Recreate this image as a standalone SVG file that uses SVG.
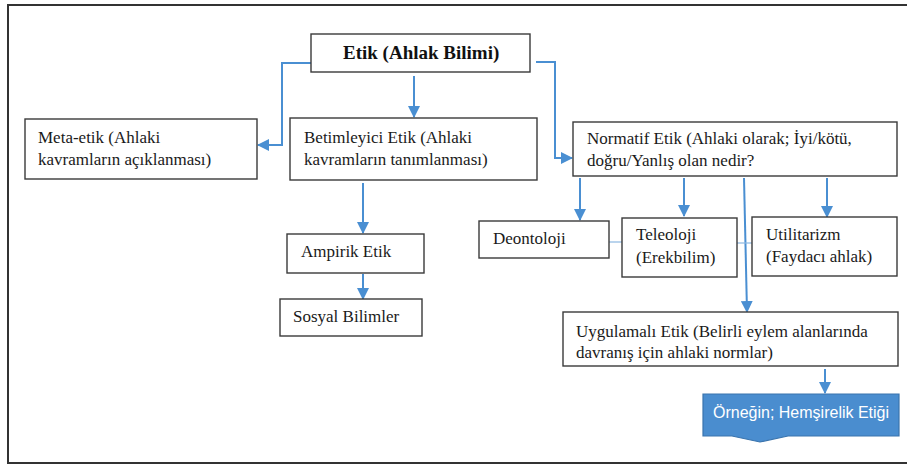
<svg xmlns="http://www.w3.org/2000/svg" width="907" height="465" viewBox="0 0 907 465">
<defs>
<style>
.box{fill:#fff;stroke:#3a3a3a;stroke-width:1.4}
.t{font-family:"Liberation Serif","Times New Roman",serif;font-size:17px;fill:#1a1a1a}
.b{font-family:"Liberation Serif","Times New Roman",serif;font-size:19px;font-weight:bold;fill:#111}
.c{fill:none;stroke:#4a8fd2;stroke-width:2}
.thin{fill:none;stroke:#8db8e2;stroke-width:1.2}
.w{font-family:"Liberation Sans",Arial,sans-serif;font-size:16px;fill:#fff}
</style>
<marker id="ah" markerUnits="userSpaceOnUse" markerWidth="12" markerHeight="12" refX="11" refY="6" orient="auto" viewBox="0 0 12 12">
<path d="M0,0 L12,6 L0,12 z" fill="#4a8fd2"/>
</marker>
</defs>
<rect x="0" y="0" width="907" height="465" fill="#fff"/>
<rect x="8" y="5" width="910" height="458" fill="none" stroke="#333" stroke-width="2"/>

<g id="connectors">
<polyline class="c" points="311,63 282,63 282,145 258,145" marker-end="url(#ah)"/>
<line class="c" x1="414" y1="76" x2="414" y2="117" marker-end="url(#ah)"/>
<polyline class="c" points="536,62 555,62 555,158 572,158" marker-end="url(#ah)"/>
<line class="c" x1="363" y1="183" x2="363" y2="233" marker-end="url(#ah)"/>
<line class="c" x1="363" y1="274" x2="363" y2="299" marker-end="url(#ah)"/>
<line class="c" x1="580" y1="178" x2="580" y2="220" marker-end="url(#ah)"/>
<line class="c" x1="684" y1="178" x2="684" y2="216" marker-end="url(#ah)"/>
<line class="c" x1="827" y1="178" x2="827" y2="217" marker-end="url(#ah)"/>
<line class="c" x1="744" y1="178" x2="747" y2="312" marker-end="url(#ah)"/>
<line class="c" x1="825" y1="369" x2="825" y2="393" marker-end="url(#ah)"/>
<line class="thin" x1="609" y1="242" x2="622" y2="242"/>
<line class="thin" x1="737" y1="243" x2="752" y2="243"/>
</g>

<g id="etik">
<rect class="box" x="311" y="34" width="219" height="38"/>
<text class="b" x="343" y="59">Etik (Ahlak Bilimi)</text>
</g>
<g id="meta-etik">
<rect class="box" x="25" y="119" width="232" height="60"/>
<text class="t" x="38" y="143">Meta-etik (Ahlaki</text>
<text class="t" x="38" y="165">kavramların açıklanması)</text>
</g>
<g id="betimleyici">
<rect class="box" x="290" y="118" width="247" height="62"/>
<text class="t" x="304" y="143">Betimleyici Etik (Ahlaki</text>
<text class="t" x="304" y="165">kavramların tanımlanması)</text>
</g>
<g id="normatif">
<rect class="box" x="573" y="122" width="324" height="54"/>
<text class="t" x="587" y="144">Normatif Etik (Ahlaki olarak; İyi/kötü,</text>
<text class="t" x="587" y="166">doğru/Yanlış olan nedir?</text>
</g>
<g id="ampirik">
<rect class="box" x="287" y="234" width="137" height="39"/>
<text class="t" x="301" y="257">Ampirik Etik</text>
</g>
<g id="sosyal">
<rect class="box" x="280" y="299" width="142" height="37"/>
<text class="t" x="293" y="322">Sosyal Bilimler</text>
</g>
<g id="deontoloji">
<rect class="box" x="479" y="221" width="130" height="37"/>
<text class="t" x="493" y="244">Deontoloji</text>
</g>
<g id="teleoloji">
<rect class="box" x="622" y="218" width="115" height="59"/>
<text class="t" x="636" y="240">Teleoloji</text>
<text class="t" x="636" y="263">(Erekbilim)</text>
</g>
<g id="utilitarizm">
<rect class="box" x="752" y="217" width="145" height="59"/>
<text class="t" x="766" y="240">Utilitarizm</text>
<text class="t" x="766" y="262">(Faydacı ahlak)</text>
</g>
<g id="uygulamali">
<rect class="box" x="563" y="312" width="335" height="54"/>
<text class="t" x="576" y="337">Uygulamalı Etik (Belirli eylem alanlarında</text>
<text class="t" x="576" y="358">davranış için ahlaki normlar)</text>
</g>
<g id="ornegin">
<path d="M703,394 H899 V436 H788 L760,442 L732,436 H703 Z" fill="#4a8dcf" stroke="#3a74ad" stroke-width="1.2"/>
<text class="w" x="713" y="418">Örneğin; Hemşirelik Etiği</text>
</g>
</svg>
